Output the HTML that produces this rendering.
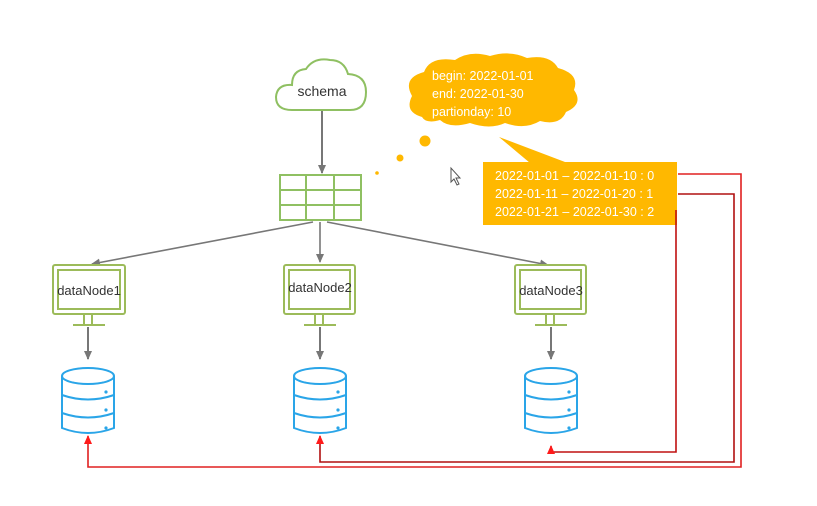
<!DOCTYPE html>
<html><head><meta charset="utf-8"><style>
html,body{margin:0;padding:0;background:#fff;}
svg{display:block;}
text{font-family:"Liberation Sans",sans-serif;}
</style></head><body>
<svg width="817" height="506" viewBox="0 0 817 506" xmlns="http://www.w3.org/2000/svg">
<defs>
<marker id="ag" markerWidth="10" markerHeight="10" refX="8" refY="5" orient="auto" markerUnits="userSpaceOnUse"><path d="M0,1 L9,5 L0,9 z" fill="#777"/></marker>
<marker id="ar" markerWidth="10" markerHeight="10" refX="8" refY="5" orient="auto" markerUnits="userSpaceOnUse"><path d="M0,1 L9,5 L0,9 z" fill="#ff1a1a"/></marker>
<g id="db" fill="#fff" stroke="#2aa5e8" stroke-width="2">
<path d="M0,10 L0,62 Q26,72 52,62 L52,10"/>
<ellipse cx="26" cy="10" rx="26" ry="8"/>
<path d="M0,29 Q26,38 52,29 M0,47 Q26,56 52,47" fill="none"/>
<circle cx="44" cy="26" r="1.6" fill="#2aa5e8" stroke="none"/>
<circle cx="44" cy="44" r="1.6" fill="#2aa5e8" stroke="none"/>
<circle cx="44" cy="62" r="1.6" fill="#2aa5e8" stroke="none"/>
</g>
</defs>

<!-- schema cloud -->
<path d="M292,110 Q276,110 276,97 Q277,84 292,85 Q292,70 306,69 Q314,57 330,60 Q344,60 348,74 Q366,75 366,92 Q366,110 350,110 Z" fill="#fff" stroke="#8fc062" stroke-width="2"/>
<text x="322" y="96" font-size="14" text-anchor="middle" fill="#333">schema</text>
<line x1="322" y1="111" x2="322" y2="173" stroke="#777" stroke-width="2" marker-end="url(#ag)"/>

<!-- table -->
<g fill="none" stroke="#8fc062" stroke-width="2">
<rect x="280" y="175" width="81" height="45" fill="#fff"/>
<line x1="306" y1="175" x2="306" y2="220"/><line x1="334" y1="175" x2="334" y2="220"/>
<line x1="280" y1="190" x2="361" y2="190"/><line x1="280" y1="205" x2="361" y2="205"/>
</g>
<line x1="313" y1="222" x2="92" y2="264" stroke="#777" stroke-width="1.6" marker-end="url(#ag)"/>
<line x1="320" y1="222" x2="320" y2="262" stroke="#777" stroke-width="1.6" marker-end="url(#ag)"/>
<line x1="327" y1="222" x2="548" y2="265" stroke="#777" stroke-width="1.6" marker-end="url(#ag)"/>

<!-- monitors -->
<g fill="none" stroke="#9cbb5a" stroke-width="2">
<rect x="53" y="265" width="72" height="49" rx="2" fill="#fff"/><rect x="58" y="270" width="62" height="39"/>
<path d="M84,315 V324 M92,315 V324 M73,325 H105"/>
<rect x="284" y="265" width="71" height="49" rx="2" fill="#fff"/><rect x="289" y="270" width="61" height="39"/>
<path d="M315,315 V324 M323,315 V324 M304,325 H336"/>
<rect x="515" y="265" width="71" height="49" rx="2" fill="#fff"/><rect x="520" y="270" width="61" height="39"/>
<path d="M546,315 V324 M554,315 V324 M535,325 H567"/>
</g>
<text x="89" y="295" font-size="13" text-anchor="middle" fill="#333">dataNode1</text>
<text x="320" y="292" font-size="13" text-anchor="middle" fill="#333">dataNode2</text>
<text x="551" y="295" font-size="13" text-anchor="middle" fill="#333">dataNode3</text>
<line x1="88" y1="327" x2="88" y2="359" stroke="#777" stroke-width="2" marker-end="url(#ag)"/>
<line x1="320" y1="327" x2="320" y2="359" stroke="#777" stroke-width="2" marker-end="url(#ag)"/>
<line x1="551" y1="327" x2="551" y2="359" stroke="#777" stroke-width="2" marker-end="url(#ag)"/>

<use href="#db" x="62" y="366"/>
<use href="#db" x="294" y="366"/>
<use href="#db" x="525" y="366"/>

<!-- thought cloud -->
<g fill="#ffb800">
<path d="M422,117 Q404,112 412,96 Q402,78 424,72 Q430,56 455,60 Q470,50 490,56 Q510,50 527,58 Q550,54 558,68 Q580,74 574,90 Q584,104 566,112 Q560,126 540,121 Q525,130 505,123 Q490,130 470,123 Q450,129 440,120 Q426,124 422,117 Z"/>
<path d="M499,137 L565,162 L530,163 Z"/>
<circle cx="425" cy="141" r="5.5"/><circle cx="400" cy="158" r="3.5"/><circle cx="377" cy="173" r="1.8"/>
<rect x="483" y="162" width="194" height="63"/>
</g>
<g font-size="12.5" fill="#fff">
<text x="432" y="80">begin: 2022-01-01</text>
<text x="432" y="98">end: 2022-01-30</text>
<text x="432" y="116">partionday: 10</text>
</g>
<g font-size="12.5" fill="#fff">
<text x="495" y="180">2022-01-01 – 2022-01-10 : 0</text>
<text x="495" y="198">2022-01-11 – 2022-01-20 : 1</text>
<text x="495" y="216">2022-01-21 – 2022-01-30 : 2</text>
</g>
<path d="M451,168 v14 l3,-3 l3,6 l2,-1 l-3,-6 h4 z" fill="#fff" stroke="#555" stroke-width="1"/>

<!-- red connectors -->
<g fill="none" stroke-width="1.6">
<path d="M678,174 H741 V467 H88 V436" stroke="#e02020" marker-end="url(#ar)"/>
<path d="M678,194 H734 V462 H320 V436" stroke="#b01010" marker-end="url(#ar)"/>
<path d="M676,210 V452 H551 V446" stroke="#c01010" marker-end="url(#ar)"/>
</g>
</svg>
</body></html>
